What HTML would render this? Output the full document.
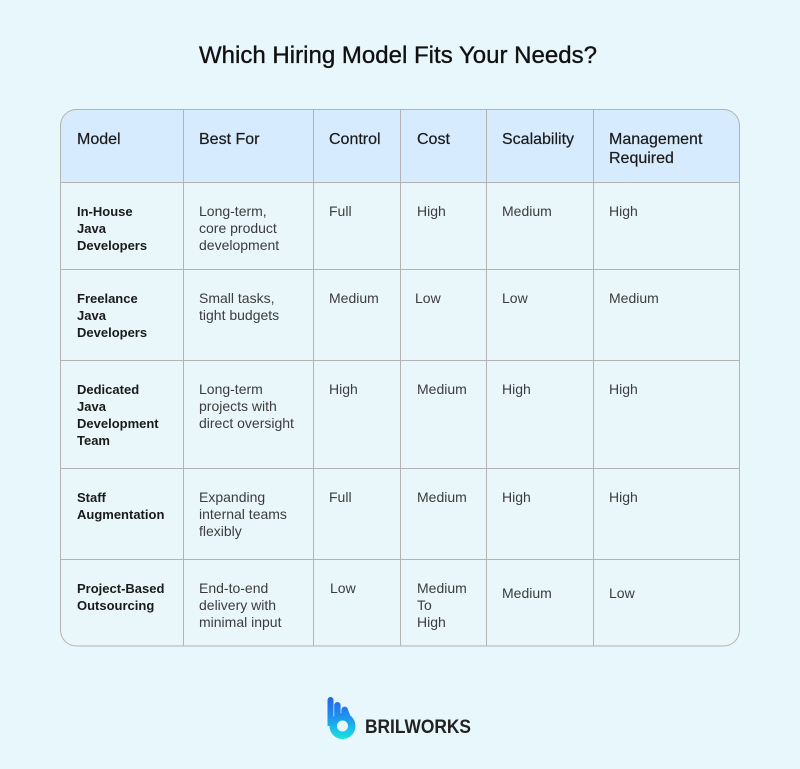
<!DOCTYPE html>
<html>
<head>
<meta charset="utf-8">
<style>
  html, body { margin:0; padding:0; background:#e8f7fb; }
  svg { display:block; }
  text { font-family:"Liberation Sans", Arial, sans-serif; }
  .h { font-size:16px; fill:#1a1a1a; stroke:#1a1a1a; stroke-width:0.2; }
  .m { font-size:13px; font-weight:bold; fill:#1a1a1a; }
  .b { font-size:14px; fill:#3c3c3c; }
</style>
</head>
<body>
<svg width="800" height="769" viewBox="0 0 800 769" xmlns="http://www.w3.org/2000/svg">
  <defs>
    <clipPath id="tbl">
      <rect x="60.5" y="109.5" width="679" height="536.5" rx="16" ry="16"/>
    </clipPath>
    <linearGradient id="lg" x1="0" y1="697" x2="0" y2="739" gradientUnits="userSpaceOnUse">
      <stop offset="0" stop-color="#2466e4"/>
      <stop offset="0.45" stop-color="#1f8ff0"/>
      <stop offset="1" stop-color="#18e4e0"/>
    </linearGradient>
  </defs>
  <rect width="800" height="769" fill="#e8f7fb"/>

  <!-- Title -->
  <text x="199" y="63" font-size="24" fill="#111" stroke="#111" stroke-width="0.35" textLength="398" lengthAdjust="spacingAndGlyphs">Which Hiring Model Fits Your Needs?</text>

  <!-- Table -->
  <g clip-path="url(#tbl)">
    <rect x="60" y="109" width="680" height="538" fill="#e9f7fb"/>
    <rect x="60" y="109" width="680" height="73.5" fill="#d6ebfd"/>
  </g>
  <g stroke="#b3b3b3" stroke-width="1" fill="none">
    <rect x="60.5" y="109.5" width="679" height="536.5" rx="16" ry="16"/>
    <line x1="183.5" y1="109.5" x2="183.5" y2="646"/>
    <line x1="313.5" y1="109.5" x2="313.5" y2="646"/>
    <line x1="400.5" y1="109.5" x2="400.5" y2="646"/>
    <line x1="486.5" y1="109.5" x2="486.5" y2="646"/>
    <line x1="593.5" y1="109.5" x2="593.5" y2="646"/>
    <line x1="60.5" y1="182.5" x2="739.5" y2="182.5"/>
    <line x1="60.5" y1="269.5" x2="739.5" y2="269.5"/>
    <line x1="60.5" y1="360.5" x2="739.5" y2="360.5"/>
    <line x1="60.5" y1="468.5" x2="739.5" y2="468.5"/>
    <line x1="60.5" y1="559.5" x2="739.5" y2="559.5"/>
  </g>

  <!-- Header -->
  <text class="h" x="77" y="144">Model</text>
  <text class="h" x="199" y="144">Best For</text>
  <text class="h" x="329" y="144">Control</text>
  <text class="h" x="417" y="144">Cost</text>
  <text class="h" x="502" y="144">Scalability</text>
  <text class="h" x="609" y="144">Management</text>
  <text class="h" x="609" y="163">Required</text>

  <!-- Row 1 -->
  <text class="m" x="77" y="216">In-House</text>
  <text class="m" x="77" y="233">Java</text>
  <text class="m" x="77" y="250">Developers</text>
  <text class="b" x="199" y="216">Long-term,</text>
  <text class="b" x="199" y="233">core product</text>
  <text class="b" x="199" y="250">development</text>
  <text class="b" x="329" y="216">Full</text>
  <text class="b" x="417" y="216">High</text>
  <text class="b" x="502" y="216">Medium</text>
  <text class="b" x="609" y="216">High</text>

  <!-- Row 2 -->
  <text class="m" x="77" y="303">Freelance</text>
  <text class="m" x="77" y="320">Java</text>
  <text class="m" x="77" y="337">Developers</text>
  <text class="b" x="199" y="303">Small tasks,</text>
  <text class="b" x="199" y="320">tight budgets</text>
  <text class="b" x="329" y="303">Medium</text>
  <text class="b" x="415" y="303">Low</text>
  <text class="b" x="502" y="303">Low</text>
  <text class="b" x="609" y="303">Medium</text>

  <!-- Row 3 -->
  <text class="m" x="77" y="394">Dedicated</text>
  <text class="m" x="77" y="411">Java</text>
  <text class="m" x="77" y="428">Development</text>
  <text class="m" x="77" y="445">Team</text>
  <text class="b" x="199" y="394">Long-term</text>
  <text class="b" x="199" y="411">projects with</text>
  <text class="b" x="199" y="428">direct oversight</text>
  <text class="b" x="329" y="394">High</text>
  <text class="b" x="417" y="394">Medium</text>
  <text class="b" x="502" y="394">High</text>
  <text class="b" x="609" y="394">High</text>

  <!-- Row 4 -->
  <text class="m" x="77" y="502">Staff</text>
  <text class="m" x="77" y="519">Augmentation</text>
  <text class="b" x="199" y="502">Expanding</text>
  <text class="b" x="199" y="519">internal teams</text>
  <text class="b" x="199" y="536">flexibly</text>
  <text class="b" x="329" y="502">Full</text>
  <text class="b" x="417" y="502">Medium</text>
  <text class="b" x="502" y="502">High</text>
  <text class="b" x="609" y="502">High</text>

  <!-- Row 5 -->
  <text class="m" x="77" y="593">Project-Based</text>
  <text class="m" x="77" y="610">Outsourcing</text>
  <text class="b" x="199" y="593">End-to-end</text>
  <text class="b" x="199" y="610">delivery with</text>
  <text class="b" x="199" y="627">minimal input</text>
  <text class="b" x="330" y="593">Low</text>
  <text class="b" x="417" y="593">Medium</text>
  <text class="b" x="417" y="610">To</text>
  <text class="b" x="417" y="627">High</text>
  <text class="b" x="502" y="598">Medium</text>
  <text class="b" x="609" y="598">Low</text>

  <!-- Logo -->
  <g fill="url(#lg)">
    <path d="M327.5 700 a3 3 0 0 1 6 0 V726 h-6 Z"/>
    <path d="M334.2 705.2 a3.2 3.2 0 0 1 6.4 0 V718 h-6.4 Z"/>
    <path d="M341.3 710 a3.4 3.4 0 0 1 6.8 0 L352 720 L341.3 720 Z"/>
    <path fill-rule="evenodd" d="M342.5 713 a13 13 0 1 1 0 26 a13 13 0 1 1 0 -26 Z M342.5 720.5 a5.5 5.5 0 1 0 0 11 a5.5 5.5 0 1 0 0 -11 Z"/>
  </g>
  <text x="365" y="733" font-size="19.5" font-weight="bold" fill="#222" textLength="106" lengthAdjust="spacingAndGlyphs">BRILWORKS</text>
</svg>
</body>
</html>
